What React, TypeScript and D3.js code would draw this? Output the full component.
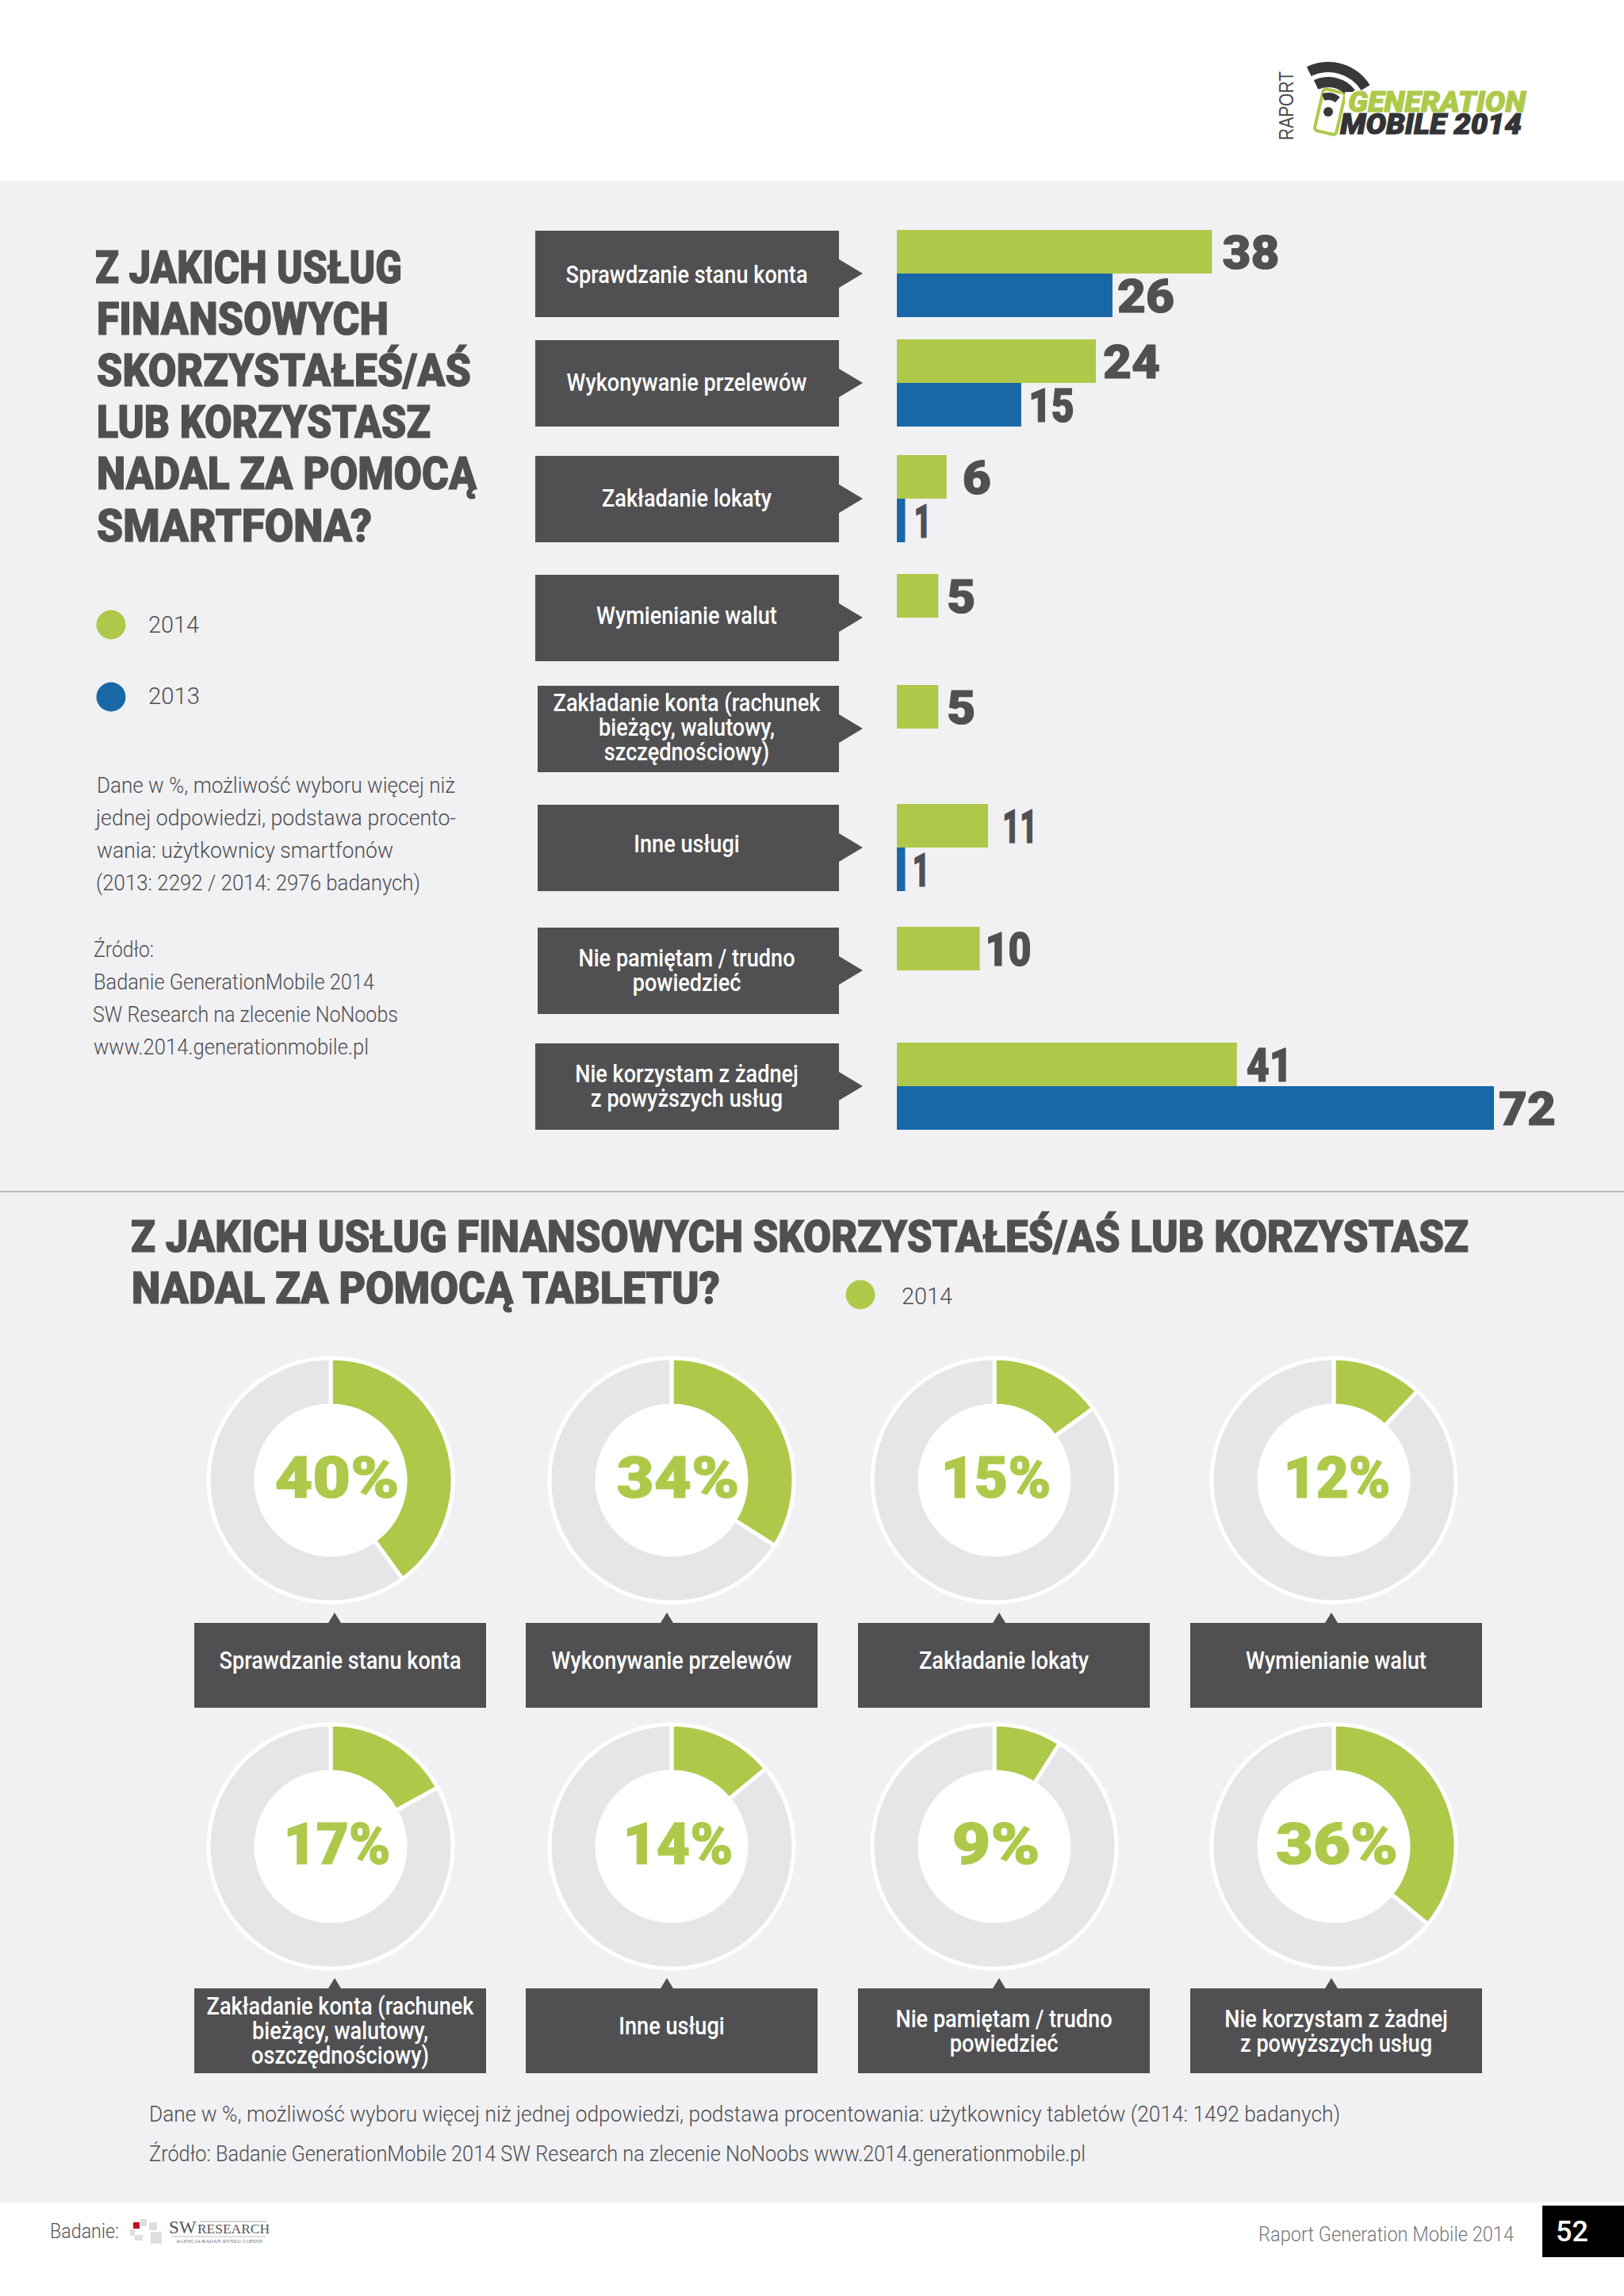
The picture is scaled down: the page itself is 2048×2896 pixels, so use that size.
import * as d3 from 'd3'

const GREEN = '#aec94a'
const BLUE = '#1868a8'
const DARK = '#505052'
const TEXT = '#4e4e50'
const BG = '#f1f1f3'
const RING = '#e6e6e8'
const HEAVY = 'Roboto, sans-serif'

// smartphone section
const services = [
  'Sprawdzanie stanu konta',
  'Wykonywanie przelewów',
  'Zakładanie lokaty',
  'Wymienianie walut',
  'Zakładanie konta (rachunek|bieżący, walutowy,|szczędnościowy)',
  'Inne usługi',
  'Nie pamiętam / trudno|powiedzieć',
  'Nie korzystam z żadnej|z powyższych usług',
]
const phone2014 = [38, 24, 6, 5, 5, 11, 10, 41]
const phone2013 = [26, 15, 1, null, null, 1, null, 72]
const rowTops = [290, 428, 574, 724, 864, 1014, 1169, 1315]
const rowLefts = [675, 675, 675, 675, 678, 678, 678, 675]
const labelNudge = [2, 0, 0, -2, -1, -4, 0, 0]
const gap2014 = [13, 9, 20, 11, 11, 18, 7, 12]
const gap2013 = [6, 9, 11, 0, 0, 9, 0, 6]

// tablet section
const tabletServices = [
  'Sprawdzanie stanu konta',
  'Wykonywanie przelewów',
  'Zakładanie lokaty',
  'Wymienianie walut',
  'Zakładanie konta (rachunek|bieżący, walutowy,|oszczędnościowy)',
  'Inne usługi',
  'Nie pamiętam / trudno|powiedzieć',
  'Nie korzystam z żadnej|z powyższych usług',
]
const tablet2014 = [40, 34, 15, 12, 17, 14, 9, 36]
const percentWidths = [157, 155, 139, 135, 135, 139, 111, 154]
const percentNudge = [8, 8, 2, 4]
const donutXs = [417, 847, 1254, 1682]
const donutYs = [1867, 2329]
const boxLefts = [245, 663, 1082, 1501]
const boxTops = [2047, 2508]
const tipXs = [422, 841, 1260, 1679]

const titleLines = [
  { t: 'Z JAKICH USŁUG', x: 120, w: 387, y: 357 },
  { t: 'FINANSOWYCH', x: 122, w: 368, y: 422 },
  { t: 'SKORZYSTAŁEŚ/AŚ', x: 122, w: 472, y: 487 },
  { t: 'LUB KORZYSTASZ', x: 122, w: 421, y: 552 },
  { t: 'NADAL ZA POMOCĄ', x: 122, w: 479, y: 617 },
  { t: 'SMARTFONA?', x: 122, w: 347, y: 683 },
]
const notes = [
  { t: 'Dane w %, możliwość wyboru więcej niż', x: 122, w: 452, y: 1000 },
  { t: 'jednej odpowiedzi, podstawa procento-', x: 121, w: 454, y: 1041 },
  { t: 'wania: użytkownicy smartfonów', x: 122, w: 374, y: 1082 },
  { t: '(2013: 2292 / 2014: 2976 badanych)', x: 121, w: 409, y: 1123 },
  { t: 'Źródło:', x: 118, w: 76, y: 1207 },
  { t: 'Badanie GenerationMobile 2014', x: 118, w: 354, y: 1248 },
  { t: 'SW Research na zlecenie NoNoobs', x: 117, w: 385, y: 1289 },
  { t: 'www.2014.generationmobile.pl', x: 118, w: 347, y: 1330 },
  { t: 'Dane w %, możliwość wyboru więcej niż jednej odpowiedzi, podstawa procentowania: użytkownicy tabletów (2014: 1492 badanych)', x: 188, w: 1502, y: 2676 },
  { t: 'Źródło: Badanie GenerationMobile 2014 SW Research na zlecenie NoNoobs www.2014.generationmobile.pl', x: 188, w: 1181, y: 2726 },
]

const x = d3.scaleLinear().domain([0, 72]).range([1131, 1884])
const rowY = d3.scaleOrdinal<string, number>().domain(services).range(rowTops)
const BAR_H = 55

const pie = d3.pie<number>().sort(null)
const ringArc = d3.arc<d3.PieArcDatum<number>>().innerRadius(94).outerRadius(154)

function Fit({ t, x, y, w, size, weight = 300, fill = TEXT, stroke, family = HEAVY, style }: any) {
  return (
    <text x={x} y={y} textLength={w} lengthAdjust="spacingAndGlyphs" fontSize={size} fontWeight={weight}
      fontFamily={family} fill={fill} stroke={stroke} strokeWidth={stroke ? 1.2 : 0} fontStyle={style}>
      {t}
    </text>
  )
}

// the 1 is much narrower than the other digits in the reference's number face
const labelWidth = (v: number) => String(v).split('').reduce((s, d) => s + (d === '1' ? 22 : 36), 0)

function ValueLabel({ v, x, y }: { v: number; x: number; y: number }) {
  return <Fit t={v} x={x} y={y} w={labelWidth(v)} size={60} weight={900} fill={DARK} stroke={DARK} />
}

// narrow white box captions, squeezed since no condensed face is around
function BoxLabel({ label, cx, cy }: { label: string; cx: number; cy: number }) {
  const lines = label.split('|')
  return (
    <g transform={`translate(${cx},${cy}) scale(0.875,1)`} fill="#fff" fontFamily={HEAVY} fontSize={31} fontWeight={500} textAnchor="middle">
      {lines.map((l, i) => (
        <text key={i} y={(i - (lines.length - 1) / 2) * 31 + 10}>{l}</text>
      ))}
    </g>
  )
}

function Logo() {
  const wifi = d3.arc()
  const rad = (d: number) => (d * Math.PI) / 180
  const bands = [
    { inner: 49, outer: 62, a: -26, b: 58 },
    { inner: 30, outer: 43, a: -25, b: 52 },
    { inner: 14, outer: 23, a: -20, b: 40 },
  ]
  return (
    <g>
      <text transform="translate(1631,177) rotate(-90)" fontFamily="Liberation Sans, sans-serif" fontSize={26} fill="#4a4a4c" textLength={87} lengthAdjust="spacingAndGlyphs">RAPORT</text>
      <rect x={1663} y={114} width={28} height={54} rx={4} fill="none" stroke={GREEN} strokeWidth={4} transform="rotate(13 1677 141)" />
      <g transform="translate(1675,140)" fill="#38383a">
        {bands.map((b, i) => (
          <path key={i} d={wifi({ innerRadius: b.inner, outerRadius: b.outer, startAngle: rad(b.a), endAngle: rad(b.b) }) as string} />
        ))}
        <circle r={6} cy={1} />
      </g>
      <rect x={1696} y={116} width={10} height={26} fill="#fff" />
      <Fit t="GENERATION" x={1700} y={141} w={224} size={37} weight={900} fill={GREEN} stroke={GREEN} style="italic" />
      <Fit t="MOBILE 2014" x={1690} y={169} w={229} size={37} weight={900} fill="#333335" stroke="#333335" style="italic" />
    </g>
  )
}

function SwLogo() {
  const blocks = [
    [177, 2799, 8, 9],
    [188, 2803, 10, 10],
    [190, 2815, 14, 15],
    [164, 2812, 6, 8],
    [170, 2819, 10, 7],
  ]
  return (
    <g>
      {blocks.map((b, i) => (
        <rect key={i} x={b[0]} y={b[1]} width={b[2]} height={b[3]} fill="#dedee0" />
      ))}
      <rect x={168} y={2803} width={8} height={8} fill="#c00d1e" />
      <text x={213} y={2817} fontFamily="Liberation Serif, serif" fontSize={23} fill="#55555a">SW</text>
      <text x={249} y={2817} fontFamily="Liberation Serif, serif" fontSize={16} fill="#55555a" textLength={91} lengthAdjust="spacingAndGlyphs">RESEARCH</text>
      <line x1={253} x2={336} y1={2802} y2={2802} stroke="#aaa" />
      <line x1={216} x2={335} y1={2821} y2={2821} stroke="#bbb" />
      <text x={222} y={2829} fontFamily="Liberation Serif, serif" fontSize={6} fill="#777" textLength={109} lengthAdjust="spacingAndGlyphs">AGENCJA BADAŃ RYNKU I OPINII</text>
    </g>
  )
}

export default function App() {
  return (
    <svg width={2048} height={2896} style={{ position: 'absolute', left: 0, top: 0, display: 'block' }}>
      <rect width={2048} height={2896} fill="#fff" />
      <rect y={228} width={2048} height={2550} fill={BG} />
      <rect y={1502} width={2048} height={2} fill="#bebec0" />
      <Logo />

      {titleLines.map((l) => (
        <Fit key={l.t} t={l.t} x={l.x} y={l.y} w={l.w} size={57} weight={900} fill={DARK} stroke={DARK} />
      ))}

      <circle cx={140} cy={788} r={18.5} fill={GREEN} />
      <Fit t="2014" x={187} y={798} w={64} size={29} />
      <circle cx={140} cy={879} r={18.5} fill={BLUE} />
      <Fit t="2013" x={187} y={888} w={65} size={29} />

      {notes.map((l) => (
        <Fit key={l.t} t={l.t} x={l.x} y={l.y} w={l.w} size={27} />
      ))}

      {services.map((s, i) => {
        const top = rowY(s)
        const v14 = phone2014[i]
        const v13 = phone2013[i]
        const mid = top + BAR_H
        const left = rowLefts[i]
        return (
          <g key={s}>
            <rect x={left} y={top + 1} width={1058 - left} height={109} fill={DARK} />
            <path d={d3.line()([[1058, mid - 18], [1088, mid], [1058, mid + 18]]) as string} fill={DARK} />
            <BoxLabel label={s} cx={866} cy={mid + labelNudge[i]} />
            <rect x={x(0)} y={top} width={x(v14) - x(0)} height={BAR_H} fill={GREEN} />
            <ValueLabel v={v14} x={x(v14) + gap2014[i]} y={top + 49} />
            {v13 != null && (
              <g>
                <rect x={x(0)} y={top + BAR_H} width={x(v13) - x(0)} height={BAR_H} fill={BLUE} />
                <ValueLabel v={v13} x={x(v13) + gap2013[i]} y={top + BAR_H + 49} />
              </g>
            )}
          </g>
        )
      })}

      <Fit t="Z JAKICH USŁUG FINANSOWYCH SKORZYSTAŁEŚ/AŚ LUB KORZYSTASZ" x={165} y={1579} w={1687} size={56} weight={900} fill={DARK} stroke={DARK} />
      <Fit t="NADAL ZA POMOCĄ TABLETU?" x={166} y={1644} w={742} size={56} weight={900} fill={DARK} stroke={DARK} />
      <circle cx={1085} cy={1633} r={18.5} fill={GREEN} />
      <Fit t="2014" x={1137} y={1645} w={64} size={29} />

      {tablet2014.map((v, i) => {
        const col = i % 4
        const row = Math.floor(i / 4)
        const cx = donutXs[col]
        const cy = donutYs[row]
        const left = boxLefts[col]
        const top = boxTops[row]
        const arcs = pie([v, 100 - v])
        const multiline = tabletServices[i].includes('|')
        return (
          <g key={tabletServices[i]}>
            <g transform={`translate(${cx},${cy})`}>
              <circle r={96} fill="#fff" />
              {arcs.map((a, k) => (
                <path key={k} d={ringArc(a) as string} fill={k === 0 ? GREEN : RING} stroke="#fff" strokeWidth={5} />
              ))}
            </g>
            <Fit t={`${v}%`} x={cx + percentNudge[col] - percentWidths[i] / 2} y={cy + 22} w={percentWidths[i]} size={72} weight={900} fill={GREEN} stroke={GREEN} />
            <rect x={left} y={top} width={368} height={107} fill={DARK} />
            <path d={d3.line()([[tipXs[col] - 8, top], [tipXs[col], top - 13], [tipXs[col] + 8, top]]) as string} fill={DARK} />
            <BoxLabel label={tabletServices[i]} cx={left + 184} cy={top + (multiline ? 54 : 48)} />
          </g>
        )
      })}

      <Fit t="Badanie:" x={63} y={2823} w={87} size={25} fill="#55555a" />
      <SwLogo />
      <Fit t="Raport Generation Mobile 2014" x={1587} y={2827} w={322} size={25} fill="#77777a" />
      <rect x={1945} y={2782} width={103} height={65} fill="#000" />
      <text x={1962} y={2827} fontFamily={HEAVY} fontWeight={500} fontSize={36} fill="#fff">52</text>
    </svg>
  )
}
